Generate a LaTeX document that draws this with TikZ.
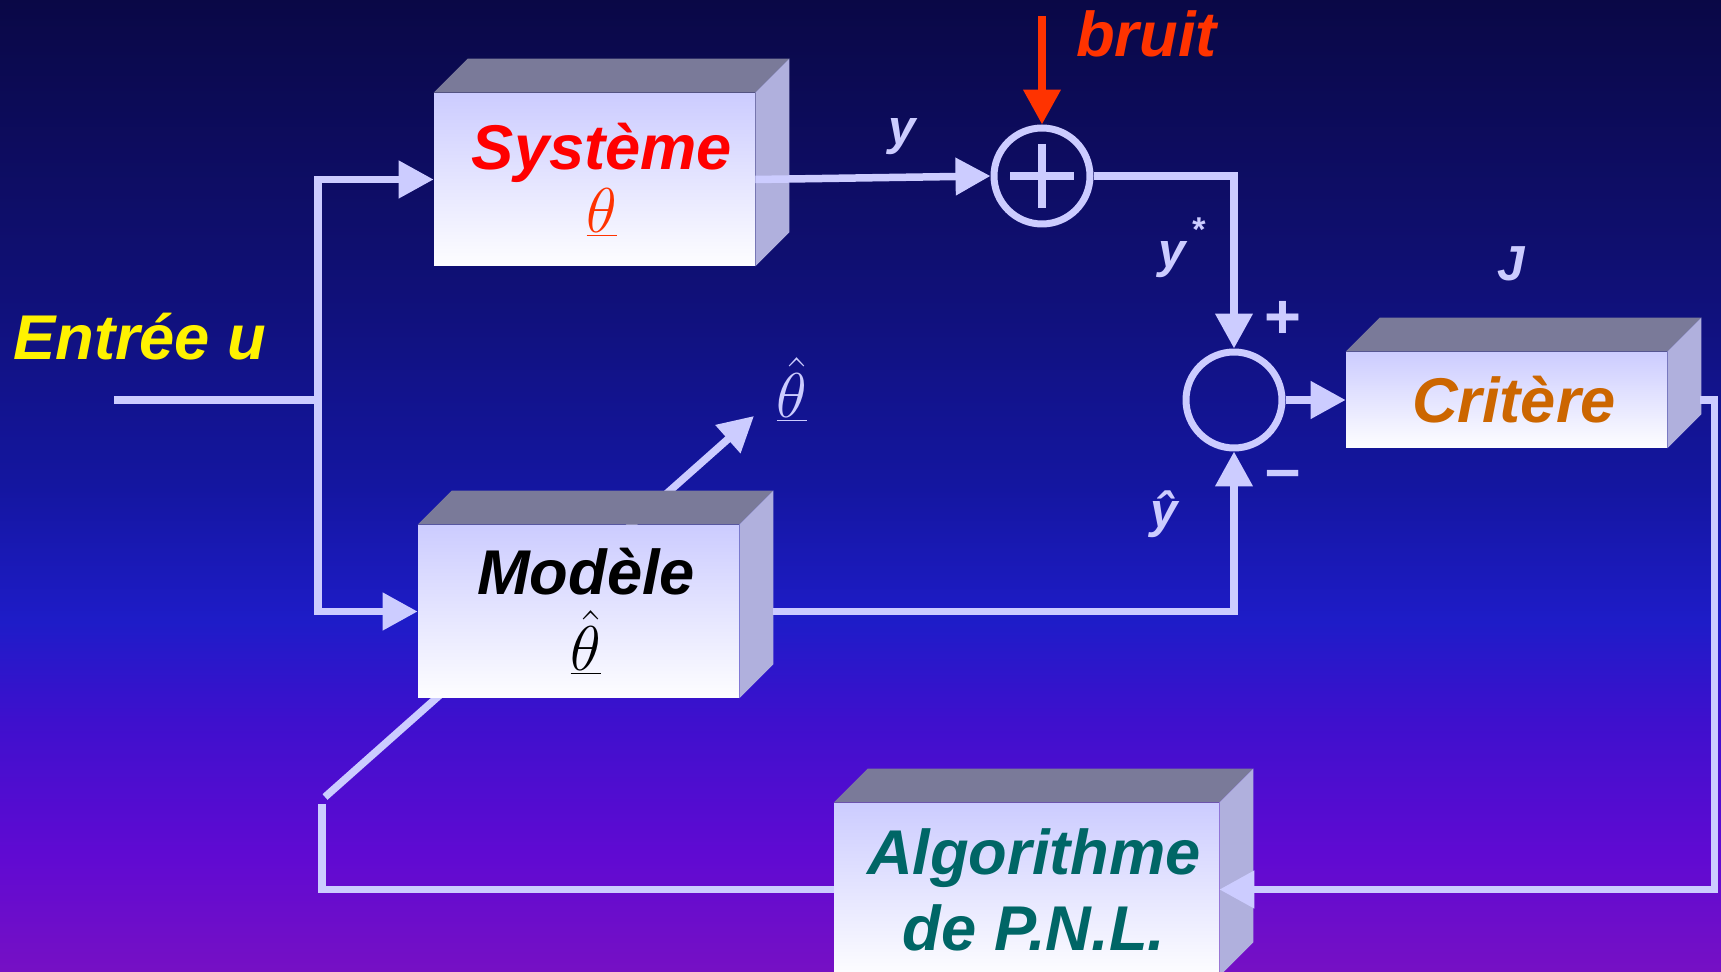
\documentclass[tikz,border=0pt]{standalone}
\usepackage{fix-cm}
\usepackage{fontspec}
\setmainfont{Liberation Sans}
\usetikzlibrary{arrows.meta,positioning,calc}

\definecolor{lavande}{RGB}{204,204,255}
\definecolor{dessusc}{RGB}{122,122,153}
\definecolor{cotec}{RGB}{176,176,221}
\definecolor{rougeor}{RGB}{255,51,0}
\definecolor{orangec}{RGB}{204,102,0}
\definecolor{sarcelle}{RGB}{0,102,102}
\definecolor{nuit}{RGB}{10,8,70}
\definecolor{marine}{RGB}{15,15,112}
\definecolor{bleumi}{RGB}{20,22,160}
\definecolor{bleuvif}{RGB}{30,28,200}
\definecolor{indigo}{RGB}{62,16,205}
\definecolor{violetc}{RGB}{96,10,210}
\definecolor{violetb}{RGB}{118,16,196}

\pgfdeclareverticalshading{fondecran}{100bp}{color(0bp)=(violetb); color(25bp)=(violetb);
  color(31bp)=(violetc); color(38bp)=(indigo); color(43bp)=(bleuvif);
  color(50bp)=(bleumi); color(62bp)=(marine); color(75bp)=(nuit); color(100bp)=(nuit)}

\newcommand{\grand}{\fontsize{36}{43.2}\selectfont\bfseries\itshape}
\newcommand{\moyen}{\fontsize{28}{34}\selectfont\bfseries\itshape}
% faces du dessus et de droite d'un bloc
\newcommand{\faces}[1]{%
  \fill[dessusc] (#1.north west) -- ++(34,-34) -- ([shift={(34,-34)}]#1.north east) -- (#1.north east) -- cycle;
  \fill[cotec] (#1.north east) -- ++(34,-34) -- ([shift={(34,-34)}]#1.south east) -- (#1.south east) -- cycle;}

\begin{document}
\begin{tikzpicture}[x=0.02cm, y=-0.02cm,
    bloc/.style={rectangle, inner sep=0pt, top color=lavande, bottom color=white!97!lavande, align=center, font=\grand, minimum width=6.42cm, minimum height=3.46cm},
    fleche/.style={draw=lavande, line width=0.15cm, -{Triangle[length=0.7cm,width=0.72cm]}},
    liaison/.style={draw=lavande, line width=0.15cm},
    sommateur/.style={circle, draw=lavande, line width=0.14cm, minimum size=1.92cm, inner sep=0pt},
    etiquette/.style={font=\moyen, text=lavande, inner sep=0pt},
    signe/.style={font=\fontsize{36}{40}\selectfont\bfseries, text=lavande, inner sep=0pt}
]
\useasboundingbox (0,0) rectangle (1721,972);
\clip (0,0) rectangle (1721,972);
\shade[shading=fondecran] (0,0) rectangle (1721,972);

% reglage des parametres (passe derriere le modele)
\coordinate (ajust) at (325,797);
\coordinate (sortie) at (754,416);
\draw[fleche] (ajust) -- (sortie);

\node[bloc, text=red] (systeme) at (594.5,179.5) {\hspace*{0.3cm}Système\\[-0.25cm]\hspace*{0.3cm}\textcolor{rougeor}{$\underline{\theta}$}};
\node[bloc, text=black] (modele) at (578.5,611.5) {\hspace*{0.3cm}Modèle\\\hspace*{0.3cm}$\underline{\hat{\theta}}$};
\node[bloc, text=orangec, minimum height=1.92cm] (critere) at (1506.5,400) {\hspace*{0.3cm}Critère};
\node[bloc, text=sarcelle, minimum width=7.7cm] (algo) at (1026.5,889.5) {\hspace*{0.3cm}Algorithme\\\hspace*{0.3cm}de P.N.L.};
\faces{systeme}
\faces{modele}
\faces{critere}
\faces{algo}

\node[sommateur] (plus) at (1042,176) {};
\draw[lavande, line width=0.16cm] ([shift={(-32,0)}]plus.center) -- ([shift={(32,0)}]plus.center);
\draw[lavande, line width=0.16cm] ([shift={(0,-32)}]plus.center) -- ([shift={(0,32)}]plus.center);
\node[sommateur] (somme) at (1234,400) {};

\node[font=\grand, text=yellow, anchor=base west] (entree) at (7,360) {Entrée u};
\node[font=\grand, text=rougeor, anchor=base west] (bruit) at (1070,57) {bruit};
\node[font=\grand, text=lavande, anchor=base] (thetaest) at (792,418) {$\underline{\hat{\theta}}$};
\node[etiquette, anchor=base] (ly) at (902,145) {y};
\node[etiquette, anchor=base west] (lyetoile) at (1158,268) {y\kern3pt\textsuperscript{\raisebox{0.25em}{*}}};
\node[etiquette, anchor=base] (lychap) at (1164,528) {ŷ};
\node[etiquette, anchor=base] (lj) at (1511,281) {J};
\node[signe] (plusS) at (1283,320) {+};
\node[signe] (moinsS) at (1283,480) {–};

\coordinate (u) at (114,400);
\coordinate (noeud) at (318,400);
\coordinate (sbruit) at (1042,16);
\coordinate (coin) at (322,804);

\draw[liaison] (u) -- (noeud);
\draw[fleche] (noeud) |- (systeme.west);
\draw[fleche] (noeud) |- (modele.west);
\draw[fleche] (systeme.east) -- (plus.west);
\draw[fleche, draw=rougeor] (sbruit) -- (plus.north);
\draw[fleche] (plus.east) -| (somme.north);
\draw[fleche] ([shift={(34,0)}]modele.east) -| (somme.south);
\draw[fleche] (somme.east) -- (critere.west);
\draw[fleche] ([shift={(33,0)}]critere.east) -- ++(14,0) |- (algo.east);
\draw[liaison] (algo.west) -| (coin);
\end{tikzpicture}
\end{document}
